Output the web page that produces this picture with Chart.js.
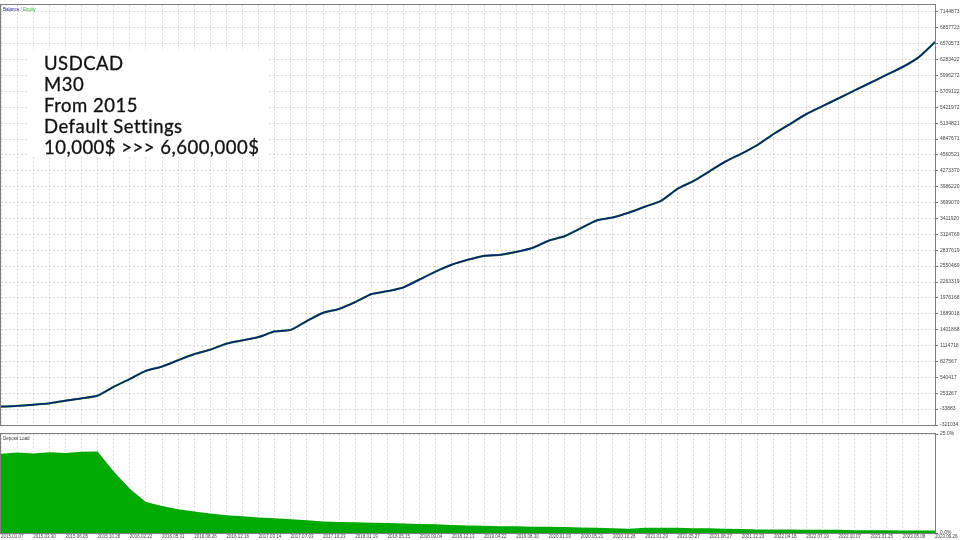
<!DOCTYPE html>
<html>
<head>
<meta charset="utf-8">
<script src="https://cdn.jsdelivr.net/npm/chart.js@4.4.1/dist/chart.umd.min.js"></script>
<style>
  html, body { margin: 0; padding: 0; background: #fff; }
  body { width: 960px; height: 540px; position: relative; overflow: hidden; }
  .panel { position: absolute; left: 0; }
  #balanceChart { top: 0; }
  #loadChart { top: 429px; }
  .note {
    position: absolute; left: 29px; top: 50px; width: 240px; height: 107px;
    box-sizing: border-box; padding: 3px 0 0 15px; background: #fff;
    font-family: Lato, sans-serif; font-size: 18.5px; line-height: 21px;
    letter-spacing: 0.5px; color: #111; white-space: nowrap;
    -webkit-text-stroke: 0.3px #111;
  }
</style>
</head>
<body>
<canvas id="balanceChart" class="panel" width="960" height="430"></canvas>
<canvas id="loadChart" class="panel" width="960" height="111"></canvas>
<div class="note">USDCAD<br>M30<br>From 2015<br>Default Settings<br>10,000$ &gt;&gt;&gt; 6,600,000$</div>
<script>
// date labels under the lower panel, one per two samples
const dateLabels = [
    '2015.01.07', '2015.03.30', '2015.06.05', '2015.10.28', '2016.02.22', '2016.05.31',
    '2016.08.26', '2016.12.16', '2017.03.14', '2017.07.03', '2017.10.23', '2018.01.19',
    '2018.05.15', '2018.09.04', '2018.12.13', '2019.04.22', '2019.08.30', '2020.01.03',
    '2020.05.21', '2020.10.28', '2021.01.29', '2021.05.27', '2021.08.27', '2021.12.23',
    '2022.04.18', '2022.07.19', '2022.10.07', '2023.01.25', '2023.05.08', '2023.09.26'
];

// balance
const balance = [
    10000, 25000, 45000, 70000, 120000, 160000, 210000, 370000, 510000, 660000,
    735000, 850000, 960000, 1040000, 1150000, 1210000, 1270000, 1370000, 1400000, 1560000,
    1706000, 1777000, 1900000, 2044000, 2097000, 2168000, 2310000, 2453000, 2577000, 2666000,
    2737000, 2755000, 2808000, 2879000, 3010000, 3093000, 3235000, 3377000, 3431000, 3519000,
    3626000, 3733000, 3946000, 4088000, 4266000, 4444000, 4586000, 4746000, 4942000, 5120000,
    5297000, 5440000, 5582000, 5724000, 5866000, 6009000, 6151000, 6330000, 6600000
];

// equity sits right on top of balance
const equity = [
    10000, 25000, 45000, 70000, 120000, 160000, 210000, 370000, 510000, 660000,
    735000, 850000, 960000, 1040000, 1150000, 1210000, 1270000, 1370000, 1400000, 1560000,
    1706000, 1777000, 1900000, 2044000, 2097000, 2168000, 2310000, 2453000, 2577000, 2666000,
    2737000, 2755000, 2808000, 2879000, 3010000, 3093000, 3235000, 3377000, 3431000, 3519000,
    3626000, 3733000, 3946000, 4088000, 4266000, 4444000, 4586000, 4746000, 4942000, 5120000,
    5297000, 5440000, 5582000, 5724000, 5866000, 6009000, 6151000, 6330000, 6600000
];

// deposit load in percent
const depositLoad = [
    20.0, 20.3, 20.1, 20.4, 20.2, 20.5, 20.6, 15.5, 11.2, 7.8,
    6.8, 6.0, 5.4, 4.9, 4.5, 4.2, 3.9, 3.7, 3.5, 3.2,
    2.9, 2.8, 2.7, 2.6, 2.5, 2.4, 2.3, 2.2, 2.0, 1.9,
    1.8, 1.7, 1.7, 1.6, 1.6, 1.5, 1.4, 1.3, 1.2, 1.1,
    1.3, 1.3, 1.3, 1.2, 1.2, 1.1, 1.0, 0.9, 0.9, 0.9,
    0.8, 0.8, 0.8, 0.7, 0.7, 0.7, 0.6, 0.6, 0.6
];

const balanceTicks = [
    -321034, -33883, 253267, 540417, 827567, 1114718, 1401868, 1689018, 1976168,
    2263319, 2550469, 2837619, 3124769, 3411920, 3699070, 3986220, 4273370, 4560521,
    4847671, 5134821, 5421972, 5709122, 5996272, 6283422, 6570573, 6857723, 7144873
];
const loadTicks = [0, 25];

const AXIS_FONT = { family: 'Liberation Sans', size: 5 };
const GRID_COLOR = '#dcdcdc';

const toPoints = (arr) => arr.map((v, i) => ({ x: i / 2, y: v }));

// vertical grid every half label step
function halfSteps(scale) {
    const ticks = [];
    for (let k = 0; k <= dateLabels.length * 2 - 2; k++) ticks.push({ value: k / 2 });
    scale.ticks = ticks;
}

const frame = {
    id: 'frame',
    afterDraw(chart, args, opts) {
        const { ctx, chartArea: a } = chart;
        ctx.save();
        ctx.strokeStyle = '#7d7d7d';
        ctx.lineWidth = 1;
        ctx.strokeRect(a.left - 0.5, a.top - 0.5, a.right - a.left + 1, a.bottom - a.top + 1);
        ctx.font = '4.5px "Liberation Sans"';
        ctx.textBaseline = 'middle';
        let x = a.left + 2;
        opts.parts.forEach((p) => {
            ctx.fillStyle = p.color;
            ctx.fillText(p.text, x, a.top + 4.5);
            x += ctx.measureText(p.text).width;
        });
        ctx.restore();
    }
};

const xAxisBase = {
    type: 'linear',
    min: 0,
    max: dateLabels.length - 1,
    afterBuildTicks: halfSteps,
    grid: { color: GRID_COLOR, drawTicks: false },
    border: { display: false, dash: [2, 2] }
};

new Chart(document.getElementById('balanceChart'), {
    type: 'line',
    data: {
        datasets: [{
            label: 'Balance',
            data: toPoints(balance),
            borderColor: '#0b2270',
            borderWidth: 1.8,
            pointRadius: 0,
            tension: 0.2
        }, {
            label: 'Equity',
            data: toPoints(equity),
            borderColor: '#44c444',
            borderWidth: 2.2,
            pointRadius: 0,
            tension: 0.2
        }]
    },
    options: {
        responsive: false,
        animation: false,
        devicePixelRatio: 1,
        layout: { padding: { left: 1, top: 1, right: 0, bottom: 2 } },
        plugins: {
            legend: { display: false },
            tooltip: { enabled: false },
            frame: { parts: [
                { text: 'Balance', color: '#1c1c8a' },
                { text: ' / ', color: '#555' },
                { text: 'Equity', color: '#2cb52c' }
            ] }
        },
        scales: {
            x: Object.assign({}, xAxisBase, { ticks: { display: false } }),
            y: {
                position: 'right',
                min: -321034,
                max: 7270000,
                afterBuildTicks(scale) { scale.ticks = balanceTicks.map((v) => ({ value: v })); },
                afterFit(scale) { scale.width = 25; },
                grid: { color: GRID_COLOR, tickColor: '#777', tickLength: 3, tickBorderDash: [] },
                border: { display: false, dash: [2, 2] },
                ticks: { font: AXIS_FONT, color: '#444', padding: 2, callback: (v) => String(v) }
            }
        }
    },
    plugins: [frame]
});

new Chart(document.getElementById('loadChart'), {
    type: 'line',
    data: {
        datasets: [{
            label: 'Deposit Load',
            data: toPoints(depositLoad),
            borderWidth: 0,
            borderColor: '#00aa00',
            backgroundColor: '#00aa00',
            fill: 'origin',
            pointRadius: 0,
            tension: 0
        }]
    },
    options: {
        responsive: false,
        animation: false,
        devicePixelRatio: 1,
        layout: { padding: { left: 1, top: 2, right: 0, bottom: 0 } },
        plugins: {
            legend: { display: false },
            tooltip: { enabled: false },
            frame: { parts: [{ text: 'Deposit Load', color: '#333' }] }
        },
        scales: {
            x: Object.assign({}, xAxisBase, {
                afterFit(scale) { scale.height = 7; },
                ticks: {
                    font: { family: 'Liberation Sans', size: 4.5 },
                    color: '#444',
                    padding: 1,
                    align: 'start',
                    autoSkip: false,
                    maxRotation: 0,
                    callback: (v) => (Number.isInteger(v) ? dateLabels[v] : '')
                }
            }),
            y: {
                position: 'right',
                min: 0,
                max: 25,
                afterBuildTicks(scale) { scale.ticks = loadTicks.map((v) => ({ value: v })); },
                afterFit(scale) { scale.width = 25; },
                grid: { color: GRID_COLOR, tickColor: '#777', tickLength: 3, tickBorderDash: [] },
                border: { display: false, dash: [2, 2] },
                ticks: { font: AXIS_FONT, color: '#444', padding: 2, callback: (v) => v.toFixed(1) + '%' }
            }
        }
    },
    plugins: [frame]
});
</script>
</body>
</html>
